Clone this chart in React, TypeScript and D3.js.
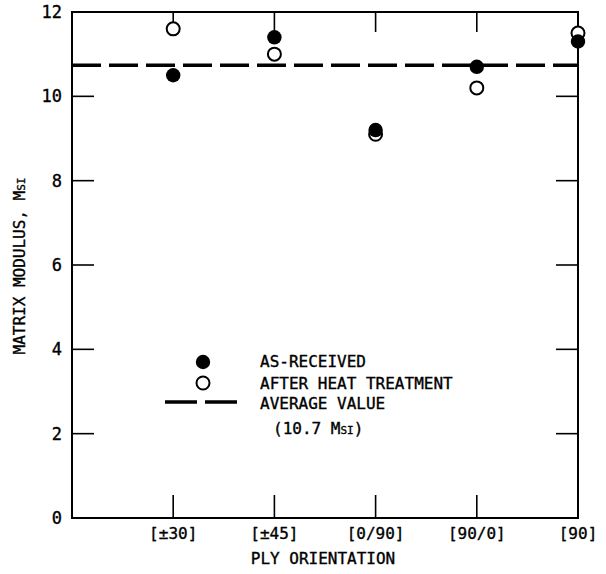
import React from "react";
import * as d3 from "d3";

const categories = ["[±30]", "[±45]", "[0/90]", "[90/0]", "[90]"];
const asReceived = [10.5, 11.4, 9.2, 10.7, 11.3];
const afterHeat = [11.6, 11.0, 9.1, 10.2, 11.5];
const averageValue = 10.74;
const yTicks = [0, 2, 4, 6, 8, 10, 12];

const W = 606;
const H = 574;
const FONT = "'DejaVu Sans Mono', monospace";

export default function App() {
  const x = d3.scaleLinear().domain([0, 5]).range([72, 578]);
  const y = d3.scaleLinear().domain([0, 12]).range([518, 12]);
  const [x0, x1] = x.range();
  const [yb, yt] = y.range();
  const avgLine = d3.line<number>()
    .x((d) => d)
    .y(() => y(averageValue));

  const catIdx = categories.map((_, i) => i + 1);
  const textStyle = { stroke: "#000", strokeWidth: 0.35 };

  return (
    <svg
      width={W}
      height={H}
      viewBox={`0 0 ${W} ${H}`}
      style={{ position: "absolute", left: 0, top: 0, background: "#fff" }}
      fontFamily={FONT}
    >
      {/* axes frame */}
      <rect x={x0} y={yt} width={x1 - x0} height={yb - yt} fill="none" stroke="#000" strokeWidth={2} />

      {/* y ticks left and right */}
      {yTicks.filter((t) => t > 0 && t < 12).map((t) => (
        <g key={"yt" + t}>
          <line x1={x0} x2={x0 + 22} y1={y(t)} y2={y(t)} stroke="#000" strokeWidth={1.6} />
          <line x1={x1} x2={x1 - 22} y1={y(t)} y2={y(t)} stroke="#000" strokeWidth={1.6} />
        </g>
      ))}
      <g style={textStyle}>
        {yTicks.map((t) => (
          <text
            key={"yl" + t}
            x={x0 - 10}
            y={y(t)}
            dy="0.36em"
            textAnchor="end"
            fontSize={17}
          >
            {t}
          </text>
        ))}
      </g>

      {/* x ticks top and bottom */}
      {catIdx.filter((i) => i < 5).map((i) => (
        <g key={"xt" + i}>
          <line x1={x(i)} x2={x(i)} y1={yb} y2={yb - 23} stroke="#000" strokeWidth={1.6} />
          <line x1={x(i)} x2={x(i)} y1={yt} y2={yt + 20} stroke="#000" strokeWidth={1.6} />
        </g>
      ))}
      <g style={textStyle}>
        {categories.map((c, i) => (
          <text key={"xl" + c} x={x(i + 1)} y={539} textAnchor="middle" fontSize={16}>
            {c}
          </text>
        ))}

        {/* axis titles */}
        <text x={323} y={564} textAnchor="middle" fontSize={16}>PLY ORIENTATION</text>
        <text
          transform={`translate(25, ${266}) rotate(-90)`}
          textAnchor="middle"
          fontSize={16}
        >
          MATRIX MODULUS, M<tspan style={{ fontVariant: "small-caps" }}>si</tspan>
        </text>
      </g>

      {/* average line */}
      <path
        d={avgLine([x0, x1]) || ""}
        fill="none"
        stroke="#000"
        strokeWidth={3.5}
        strokeDasharray="29 8"
      />

      {/* data points */}
      {afterHeat.map((v, i) => (
        <circle key={"ah" + i} cx={x(i + 1)} cy={y(v)} r={6.5} fill="#fff" stroke="#000" strokeWidth={2} />
      ))}
      {asReceived.map((v, i) => (
        <circle key={"ar" + i} cx={x(i + 1)} cy={y(v)} r={7.2} fill="#000" />
      ))}

      {/* legend */}
      <circle cx={203} cy={362} r={7.2} fill="#000" />
      <circle cx={203} cy={383} r={6.5} fill="#fff" stroke="#000" strokeWidth={2} />
      <line x1={165} x2={238} y1={402} y2={402} stroke="#000" strokeWidth={3.5} strokeDasharray="32 8" />
      <g fontSize={16} style={textStyle}>
        <text x={260} y={367}>AS-RECEIVED</text>
        <text x={260} y={389}>AFTER HEAT TREATMENT</text>
        <text x={260} y={409}>AVERAGE VALUE</text>
        <text x={273} y={434}>
          (10.7 M<tspan style={{ fontVariant: "small-caps" }}>si</tspan>)
        </text>
      </g>
    </svg>
  );
}
